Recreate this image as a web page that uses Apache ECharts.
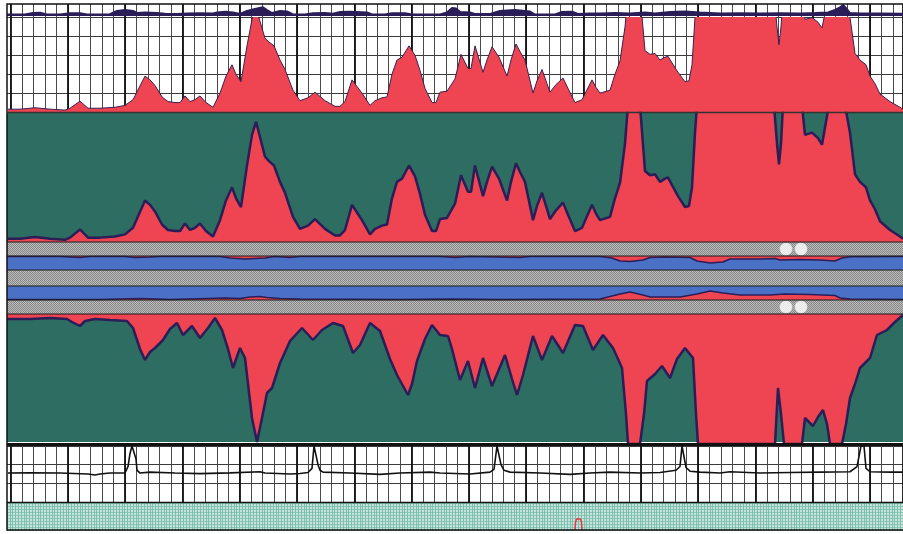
<!DOCTYPE html>
<html><head><meta charset="utf-8">
<script src="https://cdn.jsdelivr.net/npm/echarts@6/dist/echarts.min.js"></script>
<style>html,body{margin:0;padding:0;background:#fff}#c{width:903px;height:534px}</style>
</head><body><div id="c"></div><script>
// time index (sample position along the record), value pairs
const upperSignal = [[8,3],[20,3],[35,4.5],[50,3],[65,2],[70,4],[80,11.5],[88,4],[100,4],[115,5],[125,7],[133,13],[145,38],[150,34],[155,28],[162,16],[168,11],[175,10],[180,10],[185,17],[190,11],[195,13],[200,17],[206,10],[213,5],[220,20],[226,38],[232,50],[236,40],[241,32],[247,70],[252,98],[256,110],[260,96],[265,78],[269,74],[274,70],[280,55],[285,45],[293,23],[300,12],[308,15],[315,21],[325,12],[335,6],[340,6],[345,11],[352,34],[357,27],[362,20],[370,7],[375,12],[382,15],[387,16],[392,40],[397,55],[402,58],[409,70],[415,60],[420,44],[425,25],[432,10],[436,10],[440,21],[447,22],[455,35],[461,61],[468,46],[471,46],[475,70],[483,42],[487,55],[492,69],[499,58],[507,38],[511,55],[516,72],[520,64],[525,55],[533,20],[537,33],[542,45],[547,30],[550,21],[556,29],[563,36],[568,25],[575,10],[582,13],[592,34],[596,26],[600,20],[610,23],[615,40],[620,54],[625,90],[628,125],[640,125],[645,65],[650,61],[655,62],[660,55],[665,58],[668,59],[672,52],[678,42],[685,32],[689,33],[692,50],[695,100],[697,125],[774,125],[777,90],[779,71],[781,90],[783,125],[802,125],[805,98],[812,100],[818,95],[822,89],[826,110],[829,125],[845,125],[850,100],[855,62],[860,55],[866,50],[870,38],[875,30],[880,19],[890,11],[900,5],[903,3]];
const lowerSignal = [[7,5],[30,5],[50,4],[67,5],[72,8],[80,12],[85,7],[95,5],[110,6],[127,7],[133,14],[140,35],[145,46],[150,38],[155,34],[163,26],[170,15],[177,9],[183,21],[188,16],[192,12],[200,24],[208,14],[215,4],[222,16],[228,35],[233,54],[240,34],[245,44],[252,104],[257,128],[262,104],[267,79],[272,74],[280,49],[290,27],[302,14],[313,26],[322,16],[333,9],[343,12],[353,39],[360,31],[370,9],[380,17],[390,45],[397,61],[408,81],[412,70],[417,47],[425,25],[432,11],[440,21],[448,22],[452,35],[460,66],[468,47],[475,74],[483,44],[492,72],[505,41],[512,65],[517,81],[523,61],[533,22],[542,46],[552,22],[563,39],[575,11],[583,12],[593,36],[603,21],[613,34],[618,45],[622,54],[626,100],[628,130],[640,130],[644,100],[647,67],[655,60],[662,52],[670,64],[677,45],[685,34],[693,44],[696,100],[698,130],[775,130],[778,74],[781,100],[784,130],[802,130],[805,104],[809,108],[813,112],[818,103],[823,96],[827,110],[830,130],[842,130],[846,110],[850,84],[855,70],[860,54],[870,44],[877,21],[887,16],[895,8],[903,1]];
const effortTrace = [[7,1.5],[25,1.5],[33,3],[40,3.2],[47,1.5],[60,1.5],[70,2.7],[80,2.7],[87,1.5],[110,1.8],[117,5],[125,6],[133,5],[137,3],[145,3.5],[157,3],[165,2.2],[177,2],[187,2.5],[200,2.8],[213,2.5],[217,3.5],[225,4.3],[233,3.5],[240,2],[247,5],[255,7],[263,8.7],[267,6],[272,3],[280,5],[287,4.5],[293,1.5],[305,1.5],[313,2.7],[325,3],[333,2.3],[340,4],[350,4.3],[367,3.5],[372,1.5],[385,1.5],[392,2.7],[405,2.7],[412,1.5],[440,1.5],[447,3.5],[452,8],[456,7.5],[460,4],[470,3.5],[475,2],[490,2],[500,5],[515,6],[530,4.5],[535,1.5],[555,1.5],[562,4],[572,4.3],[578,2],[590,2.5],[600,2.5],[615,3],[630,2.5],[645,3.5],[655,2.5],[670,4],[685,4.5],[700,3.5],[720,2.5],[740,2.8],[760,2.5],[780,2.7],[800,2.5],[815,3],[828,3.5],[835,6],[840,8.5],[843,11],[846,8],[850,3],[860,2.5],[880,2.5],[903,2.2]];
const upperBandRed = [[7,0.5],[60,0.5],[70,1],[80,1.5],[90,0.5],[125,0.5],[135,1.5],[150,1],[160,0.5],[220,0.5],[230,2],[245,3],[255,2.5],[265,2],[275,0.5],[290,1.5],[300,0.5],[440,0.5],[455,1.5],[470,0.5],[520,1.5],[530,0.5],[600,0.5],[612,2],[620,5],[630,5.5],[643,4],[650,1.5],[665,1],[690,1.5],[697,5],[710,7],[723,6],[730,3],[760,3],[775,2.5],[780,4],[800,3.5],[820,4],[835,5],[842,2],[850,0.8],[903,0.5]];
const lowerBandRed = [[7,0.5],[100,0.5],[140,1.5],[157,1],[170,0.5],[207,1.5],[225,2],[240,1.5],[250,3],[260,3.5],[267,2.5],[280,1.5],[300,1],[400,0.5],[450,1],[500,0.5],[600,1],[612,4],[620,6],[630,8],[643,5],[650,3],[680,3],[697,6],[710,9],[723,7],[740,5],[770,5],[785,6],[810,5.5],[835,4.5],[840,2],[850,1],[903,0.5]];
const ecgTrace = [[8,1.55],[30,1.57],[60,1.55],[88,1.5],[95,1.45],[100,1.5],[110,1.55],[125,1.56],[128,1.9],[130,2.6],[132,3.0],[134,3.0],[136,2.3],[137,1.71],[140,1.55],[150,1.6],[175,1.55],[200,1.52],[230,1.56],[260,1.62],[265,1.55],[290,1.5],[300,1.53],[308,1.58],[312,1.8],[314,3.0],[316,3.0],[318,2.0],[320,1.7],[323,1.6],[350,1.55],[380,1.48],[400,1.55],[430,1.6],[440,1.55],[470,1.5],[490,1.6],[494,1.75],[497,3.0],[499,3.0],[501,2.0],[504,1.7],[510,1.6],[540,1.55],[570,1.48],[590,1.55],[610,1.6],[640,1.55],[660,1.58],[676,1.7],[680,1.9],[682,3.0],[684,3.0],[686,1.85],[690,1.65],[700,1.6],[720,1.55],[730,1.62],[760,1.55],[790,1.58],[820,1.6],[850,1.62],[857,1.9],[861,3.0],[864,3.0],[866,1.8],[870,1.62],[890,1.6],[903,1.6]];
const eventTimes = [786, 801];
const artifactMark = [[575,0],[575.5,2.5],[576.5,3.7],[578.5,4],[580.5,3.7],[581.5,2.5],[582,0]];

const GREEN='#2e6d61', RED='#ef4452', NAVY='#2a1d58', BLUE='#4b71c6';
function grayPattern(){
  const c=document.createElement('canvas'); c.width=2; c.height=2;
  const g=c.getContext('2d'); g.fillStyle='#bdbdbd'; g.fillRect(0,0,2,2);
  g.fillStyle='#858585'; g.fillRect(0,0,1,1); g.fillRect(1,1,1,1);
  return {image:c, repeat:'repeat'};
}
const GRAY = grayPattern();
const X0=7, X1=903, GL=10.5, GW=892.5;
const grid = [
 {left:GL, top:4, width:GW, height:108},
 {left:X0, top:4, width:896, height:12},
 {left:X0, top:17.5, width:896, height:94.5},
 {left:X0, top:113, width:896, height:129, show:true, backgroundColor:GREEN, borderWidth:0},
 {left:X0, top:242, width:896, height:14, show:true, backgroundColor:GRAY, borderWidth:0},
 {left:X0, top:256, width:896, height:14, show:true, backgroundColor:BLUE, borderWidth:0},
 {left:X0, top:270, width:896, height:16, show:true, backgroundColor:GRAY, borderWidth:0},
 {left:X0, top:286, width:896, height:14, show:true, backgroundColor:BLUE, borderWidth:0},
 {left:X0, top:300, width:896, height:14, show:true, backgroundColor:GRAY, borderWidth:0},
 {left:X0, top:314, width:896, height:128, show:true, backgroundColor:GREEN, borderWidth:0},
 {left:GL, top:446, width:GW, height:56},
 {left:X0, top:446, width:896, height:56},
 {left:X0, top:503, width:896, height:27, show:true, backgroundColor:'#c6e3da', borderWidth:0}
];
const noAx = {axisLine:{show:false},axisTick:{show:false},axisLabel:{show:false}};
function lineX(gi, interval, color, width, pos, max){
  return Object.assign({gridIndex:gi,type:'value',min:0,max:max||GW,interval,position:pos,
    splitLine:{show:true,lineStyle:{color,width}}}, noAx);
}
function hidX(gi){return {gridIndex:gi,type:'value',min:X0,max:X1,show:false};}
function hidY(gi,min,max,inv){return {gridIndex:gi,type:'value',min,max,inverse:!!inv,show:false};}
function lineY(gi,min,max,interval,color,width){
  return Object.assign({gridIndex:gi,type:'value',min,max,interval,splitLine:{show:true,lineStyle:{color,width}}}, noAx);
}
const xAxis = [], yAxis = [];
xAxis.push(lineX(0, 11.46, '#4a4a4a', 1, 'bottom')); xAxis.push(lineX(0, 57.3, '#111', 1.8, 'top'));
yAxis.push(hidY(0,0,1));
const xi = {}, yi = {};
for (const gi of [1,2,3,4,5,6,7,8,9,11]) { xi[gi]=xAxis.length; xAxis.push(hidX(gi)); }
yi[1]=yAxis.length; yAxis.push(hidY(1,0,12));
yi[2]=yAxis.length; yAxis.push(lineY(2,0,100,20,'#3a3a3a',1));
yi[3]=yAxis.length; yAxis.push(hidY(3,0,118));
yi[4]=yAxis.length; yAxis.push(hidY(4,0,1));
yi[5]=yAxis.length; yAxis.push(hidY(5,0,14,true));
yi[6]=yAxis.length; yAxis.push(hidY(6,0,1));
yi[7]=yAxis.length; yAxis.push(hidY(7,0,14));
yi[8]=yAxis.length; yAxis.push(hidY(8,0,1));
yi[9]=yAxis.length; yAxis.push(hidY(9,0,128,true));
yi[11]=yAxis.length; yAxis.push(lineY(11,0,3,1,'#3a3a3a',1));
xAxis.push(lineX(10, 11.46, '#4a4a4a', 1, 'bottom')); xAxis.push(lineX(10, 57.3, '#111', 1.8, 'top'));
yi[10]=yAxis.length; yAxis.push(hidY(10,0,1));
xi[12]=xAxis.length; xAxis.push({gridIndex:12,type:'value',min:X0,max:X1,show:false});
xAxis.push(lineX(12, 2.8, '#7dbfae', 1, 'top', 896));
yi[12]=yAxis.length; yAxis.push(lineY(12,0,9,1,'#8cc7b8',1));

function area(gi, data, lineColor, lw){
  return {type:'line', xAxisIndex:xi[gi], yAxisIndex:yi[gi], data, symbol:'none', silent:true,
    lineStyle:{color:lineColor,width:lw}, areaStyle:{color:RED, opacity:1}, z:3};
}
const series = [
  {type:'line', xAxisIndex:xi[1], yAxisIndex:yi[1], data:effortTrace, symbol:'none',
   lineStyle:{color:NAVY,width:2}, areaStyle:{color:NAVY,opacity:1}, z:3},
  area(2, upperSignal, '#3b2050', 1),
  area(3, upperSignal, NAVY, 2.5),
  area(5, upperBandRed, NAVY, 1.5),
  area(7, lowerBandRed, NAVY, 1.5),
  area(9, lowerSignal, NAVY, 2.5),
  {type:'scatter', xAxisIndex:xi[4], yAxisIndex:yi[4], data:eventTimes.map(t=>[t,0.5]), symbolSize:13,
   itemStyle:{color:'#fff', borderColor:'#999', borderWidth:0.5}, z:4},
  {type:'scatter', xAxisIndex:xi[8], yAxisIndex:yi[8], data:eventTimes.map(t=>[t,0.5]), symbolSize:13,
   itemStyle:{color:'#fff', borderColor:'#999', borderWidth:0.5}, z:4},
  {type:'line', xAxisIndex:xi[11], yAxisIndex:yi[11], data:ecgTrace, symbol:'none',
   lineStyle:{color:'#111', width:1.6}, z:3},
  {type:'line', xAxisIndex:xi[12], yAxisIndex:yi[12], data:artifactMark, symbol:'none',
   lineStyle:{color:'#e8343c', width:1.5}, z:3}
];
function hl(y, w, c){ return {type:'line', shape:{x1:X0,y1:y,x2:X1+2,y2:y}, style:{stroke:c||'#1a1a1a', lineWidth:w}, z:100}; }
const graphic = [
  {type:'rect', shape:{x:X0,y:4,width:905,height:526}, style:{fill:'none', stroke:'#111', lineWidth:1.5}, z:100},
  hl(112.5,1.5,'#333'), hl(242,1), hl(256,1), hl(270,1), hl(286,1), hl(300,1), hl(314,1),
  hl(444.5,3,'#111'), hl(502.5,1.5,'#111')
];
const chart = echarts.init(document.getElementById('c'), null, {renderer:'canvas'});
chart.setOption({animation:false, grid, xAxis, yAxis, series, graphic});
</script></body></html>
